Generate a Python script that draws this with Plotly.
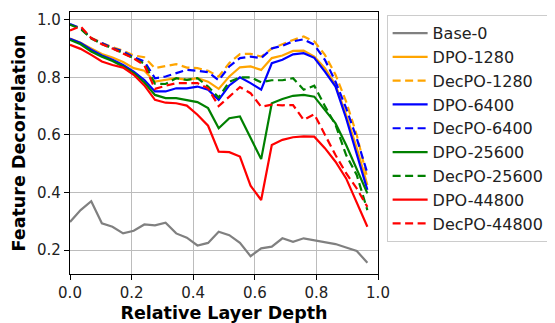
import plotly.graph_objects as go

n_layers = 29
depth = [i / 29 for i in range(n_layers)]

base_0 = [0.298, 0.339, 0.370, 0.293, 0.281, 0.258, 0.267, 0.289, 0.286, 0.295, 0.258, 0.243, 0.216, 0.225,
          0.264, 0.252, 0.225, 0.179, 0.206, 0.212, 0.241, 0.229, 0.241, 0.235, 0.229, 0.221, 0.209, 0.197, 0.156]
dpo_1280 = [0.935, 0.920, 0.900, 0.881, 0.869, 0.853, 0.832, 0.823, 0.785, 0.791, 0.797, 0.791, 0.797, 0.785,
            0.760, 0.803, 0.835, 0.838, 0.826, 0.867, 0.876, 0.892, 0.893, 0.872, 0.832, 0.774, 0.670, 0.554, 0.426]
decpo_1280 = [0.983, 0.971, 0.938, 0.920, 0.905, 0.893, 0.876, 0.870, 0.832, 0.840, 0.846, 0.834, 0.832, 0.823,
              0.803, 0.850, 0.881, 0.882, 0.872, 0.900, 0.915, 0.930, 0.942, 0.925, 0.878, 0.809, 0.716, 0.600, 0.449]
dpo_6400 = [0.934, 0.919, 0.896, 0.876, 0.861, 0.843, 0.820, 0.791, 0.751, 0.751, 0.762, 0.762, 0.768, 0.757,
            0.722, 0.772, 0.800, 0.780, 0.757, 0.849, 0.861, 0.880, 0.884, 0.868, 0.820, 0.768, 0.658, 0.530, 0.409]
decpo_6400 = [0.985, 0.971, 0.936, 0.918, 0.902, 0.890, 0.870, 0.855, 0.797, 0.803, 0.814, 0.826, 0.823, 0.818,
              0.790, 0.838, 0.867, 0.872, 0.867, 0.900, 0.910, 0.925, 0.932, 0.913, 0.861, 0.785, 0.693, 0.588, 0.467]
dpo_25600 = [0.930, 0.915, 0.890, 0.872, 0.857, 0.838, 0.815, 0.782, 0.739, 0.728, 0.728, 0.722, 0.714, 0.693,
             0.623, 0.658, 0.664, 0.590, 0.516, 0.710, 0.725, 0.736, 0.739, 0.733, 0.687, 0.640, 0.565, 0.484, 0.397]
decpo_25600 = [0.983, 0.968, 0.935, 0.916, 0.900, 0.885, 0.866, 0.848, 0.778, 0.777, 0.797, 0.791, 0.797, 0.768,
               0.730, 0.785, 0.800, 0.800, 0.783, 0.790, 0.790, 0.797, 0.757, 0.771, 0.700, 0.635, 0.530, 0.461, 0.339]
dpo_44800 = [0.913, 0.899, 0.878, 0.855, 0.843, 0.834, 0.809, 0.772, 0.722, 0.712, 0.710, 0.702, 0.670, 0.632,
             0.542, 0.540, 0.525, 0.424, 0.374, 0.565, 0.583, 0.592, 0.595, 0.594, 0.554, 0.507, 0.449, 0.368, 0.281]
decpo_44800 = [0.963, 0.977, 0.936, 0.915, 0.900, 0.882, 0.866, 0.842, 0.760, 0.771, 0.780, 0.780, 0.780, 0.762,
               0.700, 0.733, 0.766, 0.745, 0.698, 0.705, 0.703, 0.704, 0.652, 0.672, 0.600, 0.530, 0.467, 0.414, 0.350]

x_ticks = [0.0, 0.2, 0.4, 0.6, 0.8, 1.0]
y_ticks = [0.2, 0.4, 0.6, 0.8, 1.0]

series = [
    ("Base-0", base_0, "#808080", "solid"),
    ("DPO-1280", dpo_1280, "#FFA500", "solid"),
    ("DecPO-1280", decpo_1280, "#FFA500", "dash"),
    ("DPO-6400", dpo_6400, "#0000FF", "solid"),
    ("DecPO-6400", decpo_6400, "#0000FF", "dash"),
    ("DPO-25600", dpo_25600, "#008000", "solid"),
    ("DecPO-25600", decpo_25600, "#008000", "dash"),
    ("DPO-44800", dpo_44800, "#FF0000", "solid"),
    ("DecPO-44800", decpo_44800, "#FF0000", "dash"),
]

fig = go.Figure()
for name, vals, color, style in series:
    fig.add_trace(go.Scatter(
        x=depth, y=vals, name=name, mode="lines",
        line=dict(color=color, width=2.2, dash="8px,4.5px" if style == "dash" else "solid"),
    ))

axis_common = dict(
    showgrid=True, gridcolor="#bcbcbc", gridwidth=1.2,
    showline=True, linecolor="black", linewidth=1.2, mirror=True,
    ticks="outside", ticklen=5, tickwidth=1.2, tickcolor="black",
    zeroline=False, tickfont=dict(family="DejaVu Sans", size=15, color="#222"),
)

# page body has an 8px default margin; figure sized so it ends at the window edge
fig.update_layout(
    width=547, height=315,
    margin=dict(l=62, r=177, t=4, b=49, autoexpand=False),
    paper_bgcolor="white", plot_bgcolor="white",
    font=dict(family="DejaVu Sans", color="black"),
    xaxis=dict(range=[0, 1.0], tickvals=x_ticks, tickformat=".1f",
               title=dict(text="<b>Relative Layer Depth</b>", font=dict(size=17.5), standoff=14),
               **axis_common),
    yaxis=dict(range=[0.117, 1.027], tickvals=y_ticks, tickformat=".1f",
               title=dict(text="<b>Feature Decorrelation</b>", font=dict(size=17.5), standoff=6),
               **axis_common),
    legend=dict(x=1.028, y=0.988, xanchor="left", yanchor="top",
                bgcolor="white", bordercolor="#cccccc", borderwidth=1,
                font=dict(family="DejaVu Sans", size=16, color="#222"),
                itemwidth=35, tracegroupgap=0),
    showlegend=True,
)

fig.write_html("out.html")
